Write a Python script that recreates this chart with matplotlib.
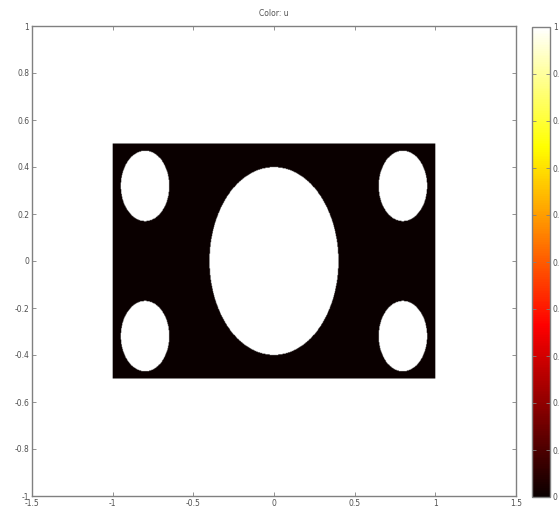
import matplotlib
matplotlib.use("Agg")
import matplotlib.pyplot as plt
import numpy as np

# domain: rectangle minus five circular holes, u = 0 on the domain
rect_x = [-1.0, 1.0]
rect_y = [-0.5, 0.5]
hole_cx = [0.0, -0.8, -0.8, 0.8, 0.8]
hole_cy = [0.0, 0.32, -0.32, 0.32, -0.32]
hole_r = [0.4, 0.15, 0.15, 0.15, 0.15]
u_value = 0.0

xticks = [-1.5, -1, -0.5, 0, 0.5, 1, 1.5]
xtick_labels = ["-1.5", "-1", "-0.5", "0", "0.5", "1", "1.5"]
yticks = [-1, -0.8, -0.6, -0.4, -0.2, 0, 0.2, 0.4, 0.6, 0.8, 1]
ytick_labels = ["-1", "-0.8", "-0.6", "-0.4", "-0.2", "0", "0.2", "0.4", "0.6", "0.8", "1"]
cticks = [0, 0.1, 0.2, 0.3, 0.4, 0.5, 0.6, 0.7, 0.8, 0.9, 1]
ctick_labels = ["0", "0.1", "0.2", "0.3", "0.4", "0.5", "0.6", "0.7", "0.8", "0.9", "1"]

gx = np.linspace(-1.5, 1.5, 900)
gy = np.linspace(-1, 1, 700)
X, Y = np.meshgrid(gx, gy)
inside = (X >= rect_x[0]) & (X <= rect_x[1]) & (Y >= rect_y[0]) & (Y <= rect_y[1])
for cx, cy, r in zip(hole_cx, hole_cy, hole_r):
    inside &= (X - cx) ** 2 + (Y - cy) ** 2 > r ** 2
U = np.ma.masked_where(~inside, np.full(X.shape, u_value))

axcol = "#808080"
txtcol = "#505050"
fs = 5.5

fig = plt.figure(figsize=(5.59, 5.15), dpi=100)
ax = fig.add_axes([32 / 559, 19 / 515, 484 / 559, 470 / 515])
im = ax.imshow(U, extent=[-1.5, 1.5, -1, 1], origin="lower", cmap="hot",
               vmin=0, vmax=1, aspect="auto", interpolation="bilinear")
ax.set_xlim(-1.5, 1.5)
ax.set_ylim(-1, 1)
ax.set_xticks(xticks)
ax.set_xticklabels(xtick_labels)
ax.set_yticks(yticks)
ax.set_yticklabels(ytick_labels)
ax.tick_params(direction="in", length=3, width=0.6, color=axcol,
               labelsize=fs, labelcolor=txtcol, top=True, right=True, pad=2)
for s in ax.spines.values():
    s.set_color(axcol)
    s.set_linewidth(1.0)
ax.set_title("Color: u", fontsize=fs, color=txtcol, pad=7)

cax = fig.add_axes([532 / 559, 18 / 515, 18 / 559, 470 / 515])
cb = fig.colorbar(im, cax=cax)
cb.set_ticks(cticks)
cb.set_ticklabels(ctick_labels)
cax.tick_params(direction="in", length=3, width=0.6, color=axcol,
                labelsize=fs, labelcolor=txtcol, left=True, right=True, pad=2)
cb.outline.set_edgecolor(axcol)
cb.outline.set_linewidth(1.0)

fig.savefig("out.png", dpi=100)
